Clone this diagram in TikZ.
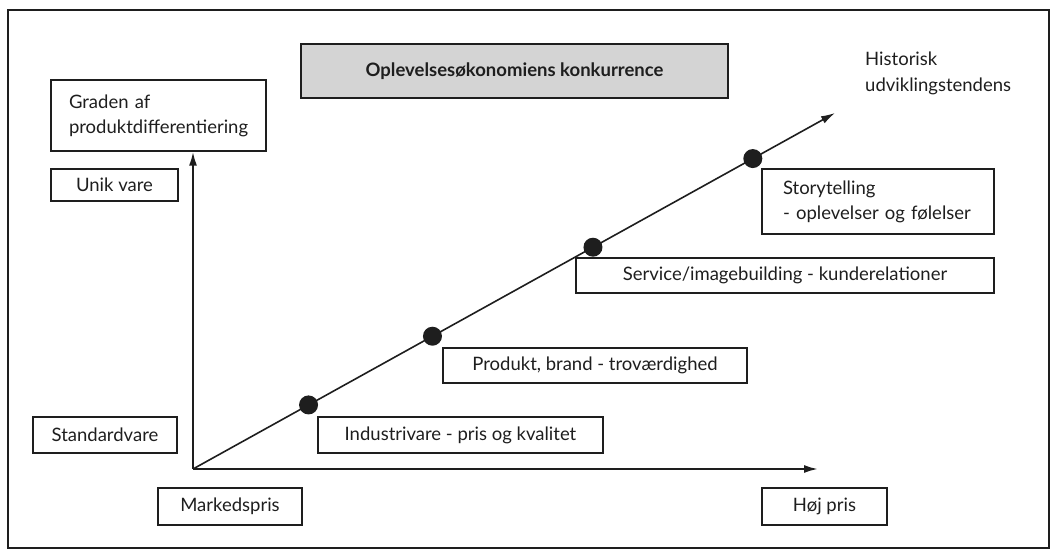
\documentclass[tikz,border=0pt]{standalone}
\usepackage{fontspec}
\setmainfont{Lato}
\usetikzlibrary{arrows.meta,calc}
\definecolor{ink}{HTML}{1E1E1E}
\definecolor{titlegray}{HTML}{D4D4D4}
\tikzset{
  box/.style={draw=ink, line width=1.3pt, inner sep=0pt, text=ink, font=\fontsize{18.5}{25}\selectfont},
  axis/.style={draw=ink, line width=2pt, -{Latex[length=14pt,width=8pt]}},
  dot/.style={circle, fill=ink, inner sep=0pt, minimum size=19pt},
  txt/.style={text=ink, font=\fontsize{18.5}{26}\selectfont, inner sep=0pt, align=left, anchor=base west}
}
\begin{document}
\begin{tikzpicture}[x=1pt,y=-1pt]
\useasboundingbox (0,0) rectangle (1057,556);
\draw[ink, line width=2pt] (8,10) rectangle (1049,548);
% title
\node[box, fill=titlegray, minimum width=427pt, minimum height=54pt, font=\bfseries\fontsize{18.5}{22}\selectfont] (title) at (514.5,71) {Oplevelsesøkonomiens konkurrence};
% left boxes
\node[box, minimum width=215pt, minimum height=71pt, text width=179pt, align=left] (graden) at (158.5,115.5) {Graden af\\produktdifferentiering};
\node[box, minimum width=127pt, minimum height=32pt] (unik) at (114.5,185) {Unik vare};
\node[box, minimum width=144pt, minimum height=36pt] (standard) at (105,435) {Standardvare};
\node[box, minimum width=144pt, minimum height=37pt] (marked) at (230,506.5) {Markedspris};
\node[box, minimum width=125pt, minimum height=37pt] (hoj) at (824.5,506.5) {Høj pris};
% step boxes
\node[box, minimum width=285pt, minimum height=36pt] (industri) at (460.5,435) {Industrivare - pris og kvalitet};
\node[box, minimum width=304pt, minimum height=35pt] (produkt) at (595,365.5) {Produkt, brand - troværdighed};
\node[box, minimum width=418pt, minimum height=35pt] (service) at (785,275.5) {Service/imagebuilding - kunderelationer};
\node[box, minimum width=232pt, minimum height=65pt, text width=190pt, align=left] (story) at (878,201.5) {Storytelling\\- oplevelser og følelser};
% historisk
\node[txt] (hist) at (865,92) {Historisk\\udviklingstendens};
% axes
\coordinate (o) at (193,469);
\coordinate (xend) at (818,469);
\coordinate (dend) at (835,113);
\draw[axis] (o) -- (graden.south -| o);
\draw[axis] (o) -- (xend);
\draw[axis, line width=1.6pt] (o) -- (dend);
% dots
\node[dot] (d1) at ($(o)!0.180!(dend)$) {};
\node[dot] (d2) at ($(o)!0.373!(dend)$) {};
\node[dot] (d3) at ($(o)!0.623!(dend)$) {};
\node[dot] (d4) at ($(o)!0.872!(dend)$) {};
\end{tikzpicture}
\end{document}
